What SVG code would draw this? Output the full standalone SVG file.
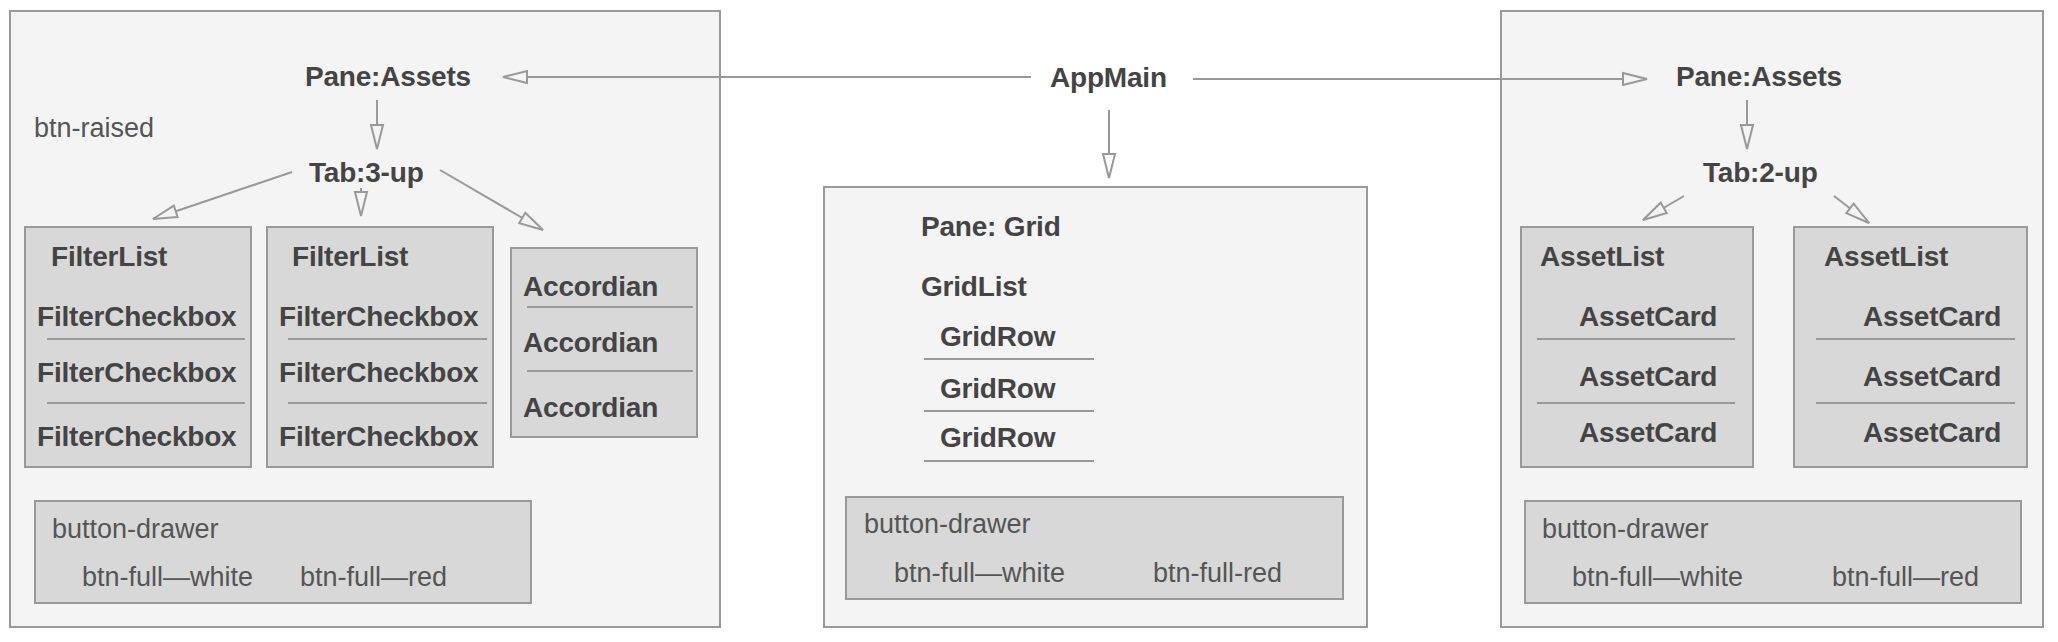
<svg xmlns="http://www.w3.org/2000/svg" width="2058" height="642" viewBox="0 0 2058 642">
<style>
.panel{fill:#f4f4f4;stroke:#999;stroke-width:2}
.box{fill:#d8d8d8;stroke:#999;stroke-width:2}
.sep{stroke:#999;stroke-width:2}
.b{font-family:"Liberation Sans",Arial,sans-serif;font-weight:bold;font-size:28px;letter-spacing:-0.2px;fill:#444}
.l{font-family:"Liberation Sans",Arial,sans-serif;font-weight:normal;font-size:27px;fill:#555}
.c{stroke:#999;stroke-width:2;fill:none}
</style>
<defs>
<marker id="ah" markerUnits="userSpaceOnUse" markerWidth="30" markerHeight="18" refX="25" refY="7" orient="auto" overflow="visible">
<path d="M1,1 L25,7 L1,13 Z" fill="#f4f4f4" stroke="#999" stroke-width="2" stroke-linejoin="miter"/>
</marker>
<marker id="ahw" markerUnits="userSpaceOnUse" markerWidth="30" markerHeight="18" refX="25" refY="7" orient="auto" overflow="visible">
<path d="M1,1 L25,7 L1,13 Z" fill="#fff" stroke="#999" stroke-width="2" stroke-linejoin="miter"/>
</marker>
</defs>
<rect width="2058" height="642" fill="#fff"/>

<g id="panel-left">
<rect class="panel" x="10" y="11" width="710" height="616"/>
</g>
<g id="panel-center">
<rect class="panel" x="824" y="187" width="543" height="440"/>
</g>
<g id="panel-right">
<rect class="panel" x="1501" y="11" width="542" height="616"/>
</g>

<g id="appmain"><text class="b" x="1050" y="87">AppMain</text></g>

<g id="left-pane-assets"><text class="b" x="305" y="86">Pane:Assets</text></g>
<g id="left-btn-raised"><text class="l" x="34" y="137">btn-raised</text></g>
<g id="left-tab"><text class="b" x="309" y="182">Tab:3-up</text></g>

<g id="filterlist-1">
<rect class="box" x="25" y="227" width="226" height="240"/>
<text class="b" x="51" y="266">FilterList</text>
<text class="b" x="37" y="326">FilterCheckbox</text>
<line class="sep" x1="47" y1="339" x2="245" y2="339"/>
<text class="b" x="37" y="382">FilterCheckbox</text>
<line class="sep" x1="47" y1="403" x2="245" y2="403"/>
<text class="b" x="37" y="446">FilterCheckbox</text>
</g>
<g id="filterlist-2">
<rect class="box" x="267" y="227" width="226" height="240"/>
<text class="b" x="292" y="266">FilterList</text>
<text class="b" x="279" y="326">FilterCheckbox</text>
<line class="sep" x1="288" y1="339" x2="487" y2="339"/>
<text class="b" x="279" y="382">FilterCheckbox</text>
<line class="sep" x1="288" y1="403" x2="487" y2="403"/>
<text class="b" x="279" y="446">FilterCheckbox</text>
</g>
<g id="accordian">
<rect class="box" x="511" y="248" width="186" height="189"/>
<text class="b" x="523" y="296">Accordian</text>
<line class="sep" x1="527" y1="307" x2="693" y2="307"/>
<text class="b" x="523" y="352">Accordian</text>
<line class="sep" x1="527" y1="371" x2="693" y2="371"/>
<text class="b" x="523" y="417">Accordian</text>
</g>
<g id="left-drawer">
<rect class="box" x="35" y="501" width="496" height="102"/>
<text class="l" x="52" y="538">button-drawer</text>
<text class="l" x="82" y="586">btn-full—white</text>
<text class="l" x="300" y="586">btn-full—red</text>
</g>

<g id="grid-pane">
<text class="b" x="921" y="236">Pane: Grid</text>
<text class="b" x="921" y="296">GridList</text>
</g>
<g id="grid-rows">
<text class="b" x="940" y="346">GridRow</text>
<line class="sep" x1="924" y1="359" x2="1094" y2="359"/>
<text class="b" x="940" y="398">GridRow</text>
<line class="sep" x1="924" y1="411" x2="1094" y2="411"/>
<text class="b" x="940" y="447">GridRow</text>
<line class="sep" x1="924" y1="461" x2="1094" y2="461"/>
</g>
<g id="center-drawer">
<rect class="box" x="846" y="497" width="497" height="102"/>
<text class="l" x="864" y="533">button-drawer</text>
<text class="l" x="894" y="582">btn-full—white</text>
<text class="l" x="1153" y="582">btn-full-red</text>
</g>

<g id="right-pane-assets"><text class="b" x="1676" y="86">Pane:Assets</text></g>
<g id="right-tab"><text class="b" x="1703" y="182">Tab:2-up</text></g>
<g id="assetlist-1">
<rect class="box" x="1521" y="227" width="232" height="240"/>
<text class="b" x="1540" y="266">AssetList</text>
<text class="b" x="1579" y="326">AssetCard</text>
<line class="sep" x1="1537" y1="339" x2="1735" y2="339"/>
<text class="b" x="1579" y="386">AssetCard</text>
<line class="sep" x1="1537" y1="403" x2="1735" y2="403"/>
<text class="b" x="1579" y="442">AssetCard</text>
</g>
<g id="assetlist-2">
<rect class="box" x="1794" y="227" width="233" height="240"/>
<text class="b" x="1824" y="266">AssetList</text>
<text class="b" x="1863" y="326">AssetCard</text>
<line class="sep" x1="1816" y1="339" x2="2015" y2="339"/>
<text class="b" x="1863" y="386">AssetCard</text>
<line class="sep" x1="1816" y1="403" x2="2015" y2="403"/>
<text class="b" x="1863" y="442">AssetCard</text>
</g>
<g id="right-drawer">
<rect class="box" x="1525" y="501" width="496" height="102"/>
<text class="l" x="1542" y="538">button-drawer</text>
<text class="l" x="1572" y="586">btn-full—white</text>
<text class="l" x="1832" y="586">btn-full—red</text>
</g>

<g id="connectors">
<line class="c" x1="1031" y1="77" x2="503" y2="77" marker-end="url(#ah)"/>
<line class="c" x1="1193" y1="79" x2="1647" y2="79" marker-end="url(#ah)"/>
<line class="c" x1="1109" y1="110" x2="1109" y2="178" marker-end="url(#ahw)"/>
<line class="c" x1="377" y1="100" x2="377" y2="149" marker-end="url(#ah)"/>
<line class="c" x1="292" y1="172" x2="153" y2="219" marker-end="url(#ah)"/>
<line class="c" x1="361" y1="188" x2="361" y2="216" marker-end="url(#ah)"/>
<line class="c" x1="440" y1="170" x2="543" y2="230" marker-end="url(#ah)"/>
<line class="c" x1="1747" y1="100" x2="1747" y2="149" marker-end="url(#ah)"/>
<line class="c" x1="1684" y1="196" x2="1643" y2="220" marker-end="url(#ah)"/>
<line class="c" x1="1834" y1="196" x2="1869" y2="223" marker-end="url(#ah)"/>
</g>
</svg>
